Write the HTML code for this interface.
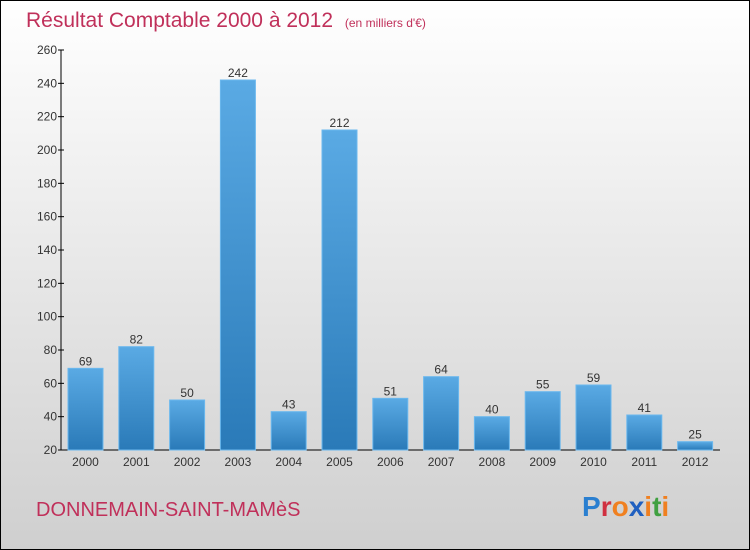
<!DOCTYPE html>
<html><head><meta charset="utf-8"><style>
body{margin:0}
#c{width:750px;height:550px;position:relative;overflow:hidden;font-family:"Liberation Sans",sans-serif}
</style></head><body>
<div id="c">
<svg id="s" width="750" height="550" xmlns="http://www.w3.org/2000/svg">
<defs>
<linearGradient id="bg" x1="0" y1="0" x2="0" y2="1"><stop offset="0" stop-color="#ffffff"/><stop offset="1" stop-color="#cfcfcf"/></linearGradient>
<linearGradient id="bar" x1="0" y1="0" x2="0" y2="1"><stop offset="0" stop-color="#5aaae4"/><stop offset="1" stop-color="#2a7ab8"/></linearGradient>
</defs>
<rect x="0.5" y="0.5" width="749" height="549" fill="url(#bg)" stroke="#000"/>
<text x="26" y="27" font-size="21" fill="#c0305a">Résultat Comptable 2000 à 2012 <tspan font-size="12" dx="6">(en milliers d'€)</tspan></text>
<text x="36" y="516" font-size="20" fill="#c0305a">DONNEMAIN-SAINT-MAMèS</text>
<text x="582" y="516" font-size="28" font-weight="bold"><tspan fill="#2a7fd0">P</tspan><tspan fill="#d03040">r</tspan><tspan fill="#f08020">o</tspan><tspan fill="#2060c0">x</tspan><tspan fill="#f08020">i</tspan><tspan fill="#40a040">t</tspan><tspan fill="#f08020">i</tspan></text>
<g id="g"></g>
</svg>
</div>
<script>
const categories=["2000","2001","2002","2003","2004","2005","2006","2007","2008","2009","2010","2011","2012"];
const values=[69,82,50,242,43,212,51,64,40,55,59,41,25];
const ticks=[20,40,60,80,100,120,140,160,180,200,220,240,260];
const NS="http://www.w3.org/2000/svg";
const g=document.getElementById('g');
const y=v=>450-(v-20)*400/240;
const xc=i=>85.5+i*50.8;
function mk(t,a){const e=document.createElementNS(NS,t);for(const k in a)e.setAttribute(k,a[k]);g.appendChild(e);return e;}
let ax=mk('line',{x1:61,y1:50,x2:61,y2:450,stroke:'#000'});


let xa=mk('line',{x1:61,y1:450,x2:720,y2:450,stroke:'#000'});


ticks.forEach(t=>{
 let l=mk('line',{x1:58,y1:y(t),x2:64,y2:y(t),stroke:'#000'});
 
 
 let tx=mk('text',{x:57,y:y(t)+4,'font-size':12,'text-anchor':'end',fill:'#333'});
 tx.textContent=t;
 
 
});
categories.forEach((c,i)=>{
 let r=mk('rect',{x:xc(i)-17.5,y:y(values[i]),width:35,height:450-y(values[i]),fill:'url(#bar)',stroke:'#6bb8ee','stroke-width':1});
 
 
 let v=mk('text',{x:xc(i),y:y(values[i])-3,'font-size':12,'text-anchor':'middle',fill:'#333'});
 v.textContent=values[i];
 
 
 let xl=mk('text',{x:xc(i),y:466,'font-size':12,'text-anchor':'middle',fill:'#333'});
 xl.textContent=c;
 
 
});
</script>
</body></html>
